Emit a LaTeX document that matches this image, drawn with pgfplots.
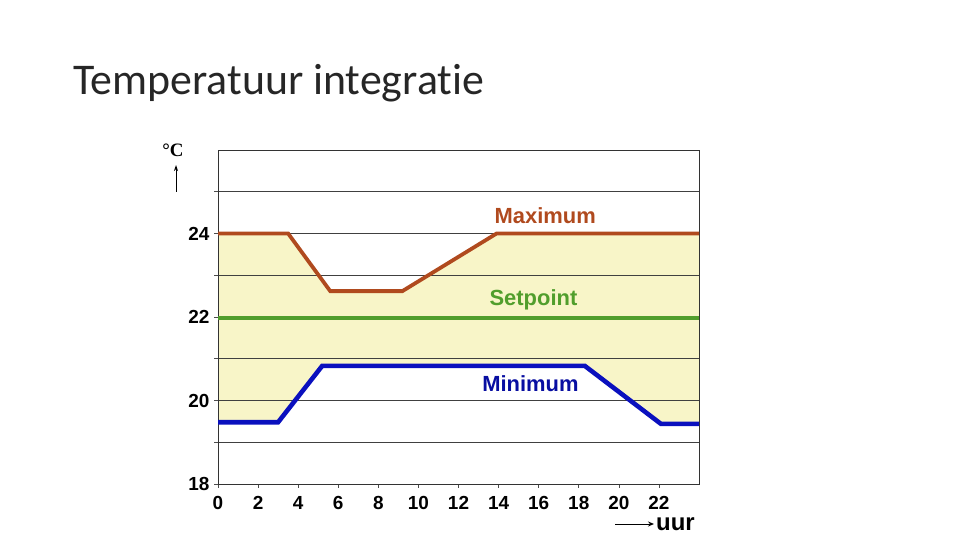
\documentclass[border=0pt]{standalone}
\usepackage{pgfplots}
\pgfplotsset{compat=1.18}
\usepgfplotslibrary{fillbetween}
\usetikzlibrary{arrows.meta}
\usepackage{fontspec}
\setmainfont{Liberation Sans}
\newfontfamily\titlefont[Ligatures=NoCommon]{Carlito}
\newfontfamily\serifbf{Liberation Serif}
\definecolor{maxc}{HTML}{B04A1E}
\definecolor{setc}{HTML}{519E2C}
\definecolor{minc}{HTML}{0A10BE}
\definecolor{band}{HTML}{F8F5C8}
\begin{document}
\begin{tikzpicture}
\path (0bp,0bp) rectangle (960bp,540bp);
\node[anchor=base west, inner sep=0pt, font=\titlefont\fontsize{44}{50}\selectfont, text=black!85] at (73bp,445bp) {Temperatuur integratie};
\begin{axis}[
  at={(218bp,56bp)}, anchor=south west,
  width=481bp, height=334bp, scale only axis,
  xmin=0, xmax=24, ymin=18, ymax=26,
  set layers,
  xtick={0,2,...,22}, ytick={18,20,22,24}, minor ytick={19,21,23,25},
  ymajorgrids, yminorgrids,
  major grid style={black!75, line width=0.8pt},
  minor grid style={black!75, line width=0.8pt},
  axis line style={black!80, line width=0.8pt},
  tick align=outside, xtick pos=bottom, ytick pos=left,
  major tick length=4bp, minor tick length=4bp,
  tick style={black!70, line width=0.6pt},
  /pgf/number format/assume math mode=true,
  ticklabel style={font=\bfseries\fontsize{19}{19}\selectfont},
  xticklabel style={inner sep=1bp, yshift=-7bp, text height=13bp, text depth=0bp},
  yticklabel style={xshift=-1bp},
  clip=false,
]
\addplot[maxc, line width=3.8pt, name path=max] coordinates {
  (0,24) (3.5,24) (5.6,22.62) (9.2,22.62) (13.9,24) (24,24)};
\addplot[setc, line width=3.6pt] coordinates {(0,21.97) (24,21.97)};
\addplot[minc, line width=4.6pt, name path=min] coordinates {
  (0,19.48) (3.0,19.48) (5.2,20.83) (18.3,20.83) (22.1,19.44) (24,19.44)};
\addplot[band, draw=none] fill between[of=max and min, on layer=axis background];
\node[text=maxc, font=\bfseries\fontsize{22}{22}\selectfont] at (axis cs:16.33,24.43) {Maximum};
\node[text=setc, font=\bfseries\fontsize{22}{22}\selectfont] at (axis cs:15.74,22.4) {Setpoint};
\node[text=minc!85!black, font=\bfseries\fontsize{22}{22}\selectfont] at (axis cs:15.59,20.4) {Minimum};
\end{axis}
\node[font=\serifbf\bfseries\fontsize{19}{19}\selectfont] at (173bp,390bp) {°C};
\draw[-{Stealth[length=6bp,width=4bp]}, line width=1pt] (176bp,348bp) -- (176bp,375bp);
\node[font=\bfseries\fontsize{24}{24}\selectfont, anchor=base west, inner sep=0pt] at (656bp,10bp) {uur};
\draw[-{Stealth[length=6bp,width=5bp]}, line width=1pt] (615bp,16bp) -- (654bp,16bp);
\end{tikzpicture}
\end{document}
